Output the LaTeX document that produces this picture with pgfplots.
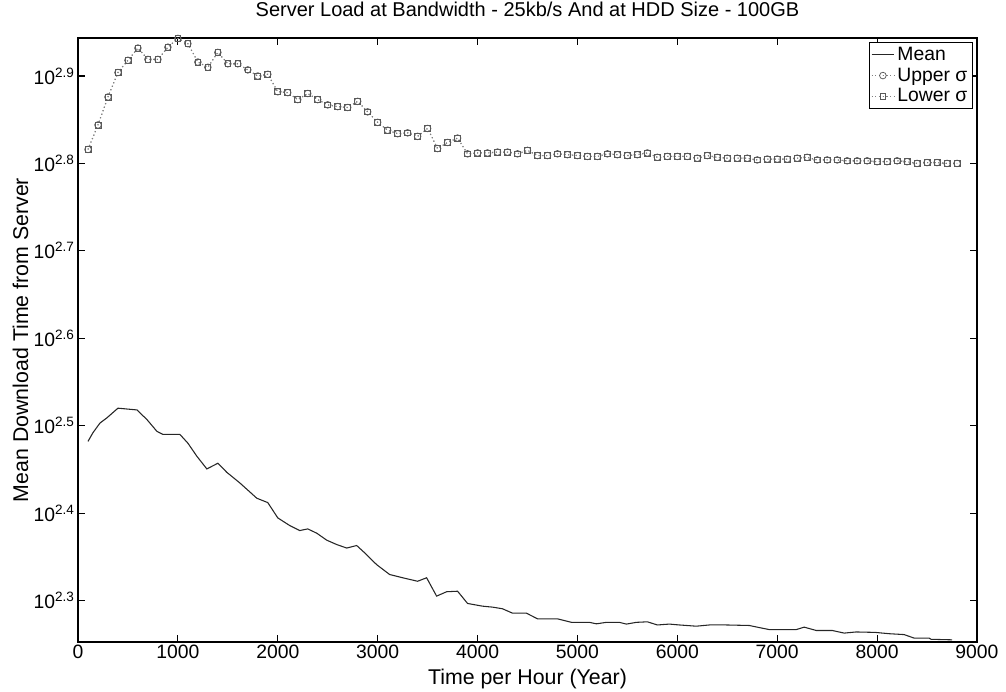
\documentclass[border=0pt]{standalone}
\usepackage{fontspec}
\setmainfont{Liberation Sans}
\usepackage{pgfplots}
\usepackage{pgfplotstable}
\pgfplotsset{compat=1.18}

% Mean curve: hours, log10(download time)
\pgfplotstableread{
x y
100 2.482
150 2.492
220 2.503
290 2.509
400 2.520
590 2.518
690 2.507
790 2.4935
850 2.490
1020 2.490
1100 2.480
1190 2.465
1290 2.4505
1400 2.457
1490 2.4466
1620 2.4345
1790 2.417
1900 2.412
2000 2.3945
2120 2.3857
2220 2.380
2300 2.3819
2390 2.377
2490 2.369
2590 2.364
2690 2.360
2790 2.3629
2870 2.3545
2990 2.341
3120 2.3297
3250 2.326
3400 2.322
3490 2.326
3590 2.305
3690 2.310
3800 2.3106
3900 2.2966
4050 2.2935
4150 2.2924
4250 2.2905
4350 2.2855
4490 2.2855
4600 2.279
4800 2.279
4940 2.275
5120 2.275
5190 2.2733
5290 2.275
5420 2.275
5490 2.273
5590 2.275
5700 2.2756
5800 2.272
5920 2.273
6020 2.272
6190 2.2706
6320 2.272
6490 2.272
6720 2.2714
6800 2.2695
6920 2.2667
7190 2.2667
7270 2.2695
7390 2.2657
7550 2.2657
7670 2.2627
7790 2.264
7980 2.2635
8120 2.262
8270 2.261
8370 2.257
8520 2.257
8540 2.2556
8750 2.2550
}\meandata

% Sigma curve (upper and lower coincide): hours, log10
\pgfplotstableread{
x y
100 2.816
200 2.844
300 2.876
400 2.904
500 2.918
600 2.932
700 2.919
800 2.919
900 2.933
1000 2.943
1100 2.937
1200 2.916
1300 2.910
1400 2.927
1500 2.914
1600 2.914
1700 2.907
1800 2.900
1900 2.902
2000 2.882
2100 2.881
2200 2.873
2300 2.880
2400 2.873
2500 2.867
2600 2.865
2700 2.864
2800 2.871
2900 2.859
3000 2.847
3100 2.838
3200 2.834
3300 2.835
3400 2.831
3500 2.840
3600 2.817
3700 2.824
3800 2.829
3900 2.811
4000 2.812
4100 2.812
4200 2.813
4300 2.813
4400 2.811
4500 2.815
4600 2.809
4700 2.809
4800 2.811
4900 2.810
5000 2.809
5100 2.808
5200 2.808
5300 2.811
5400 2.810
5500 2.809
5600 2.810
5700 2.812
5800 2.807
5900 2.808
6000 2.808
6100 2.808
6200 2.806
6300 2.809
6400 2.807
6500 2.806
6600 2.806
6700 2.806
6800 2.804
6900 2.805
7000 2.805
7100 2.805
7200 2.806
7300 2.807
7400 2.804
7500 2.804
7600 2.804
7700 2.803
7800 2.803
7900 2.803
8000 2.802
8100 2.802
8200 2.803
8300 2.802
8400 2.800
8500 2.801
8600 2.801
8700 2.800
8800 2.800
}\sigmadata

\begin{document}
\begin{tikzpicture}
\begin{axis}[
  scale only axis,
  width=674.25pt, height=453pt,
  xmin=0, xmax=9000,
  ymin=2.2525, ymax=2.9435,
  axis line style={line width=0.8pt},
  every tick/.style={black, line width=0.8pt},
  major tick length=5pt,
  tick align=inside,
  xtick={0,1000,...,9000},
  xticklabels={0,1000,2000,3000,4000,5000,6000,7000,8000,9000},
  ytick={2.3,2.4,2.5,2.6,2.7,2.8,2.9},
  yticklabels={10\textsuperscript{2.3},10\textsuperscript{2.4},10\textsuperscript{2.5},10\textsuperscript{2.6},10\textsuperscript{2.7},10\textsuperscript{2.8},10\textsuperscript{2.9}},
  ticklabel style={font=\fontsize{14.5}{16}\selectfont},
  xticklabel style={yshift=1.5pt},
  yticklabel style={xshift=1pt},
  title={Server Load at Bandwidth - 25kb/s And at HDD Size - 100GB},
  title style={font=\fontsize{15}{17}\selectfont, at={(axis description cs:0.5,1.0348)}, anchor=center},
  xlabel={Time per Hour (Year)},
  xlabel style={font=\fontsize{16}{18}\selectfont, at={(axis description cs:0.5,-0.0610)}, anchor=center},
  ylabel={Mean Download Time from Server},
  ylabel style={font=\fontsize{16}{18}\selectfont, at={(axis description cs:-0.0640,0.5)}, anchor=center},
  legend style={at={(axis description cs:0.995,0.993)}, anchor=north east,
    font=\fontsize{14.5}{16}\selectfont, draw=black, line width=0.6pt,
    row sep=0pt, inner sep=1.5pt},
  legend cell align=left,
]
\addplot[black!85, line width=0.8pt] table[x=x,y=y]{\meandata};
\addlegendentry{Mean}
\addplot[gray, dotted, line width=0.8pt, mark=o, mark size=2.5pt,
  mark options={solid, black!65, line width=0.55pt}] table[x=x,y=y]{\sigmadata};
\addlegendentry{Upper σ}
\addplot[gray, dotted, line width=0.8pt, mark=square, mark size=2.2pt,
  mark options={solid, black!65, line width=0.55pt}] table[x=x,y=y]{\sigmadata};
\addlegendentry{Lower σ}
\coordinate (sw) at (rel axis cs:0,0);
\coordinate (ne) at (rel axis cs:1,1);
\end{axis}
\pgfresetboundingbox
\path[use as bounding box] ([shift={(-58.5pt,-36.75pt)}]sw) rectangle ([shift={(21.75pt,28.5pt)}]ne);
\end{tikzpicture}
\end{document}
